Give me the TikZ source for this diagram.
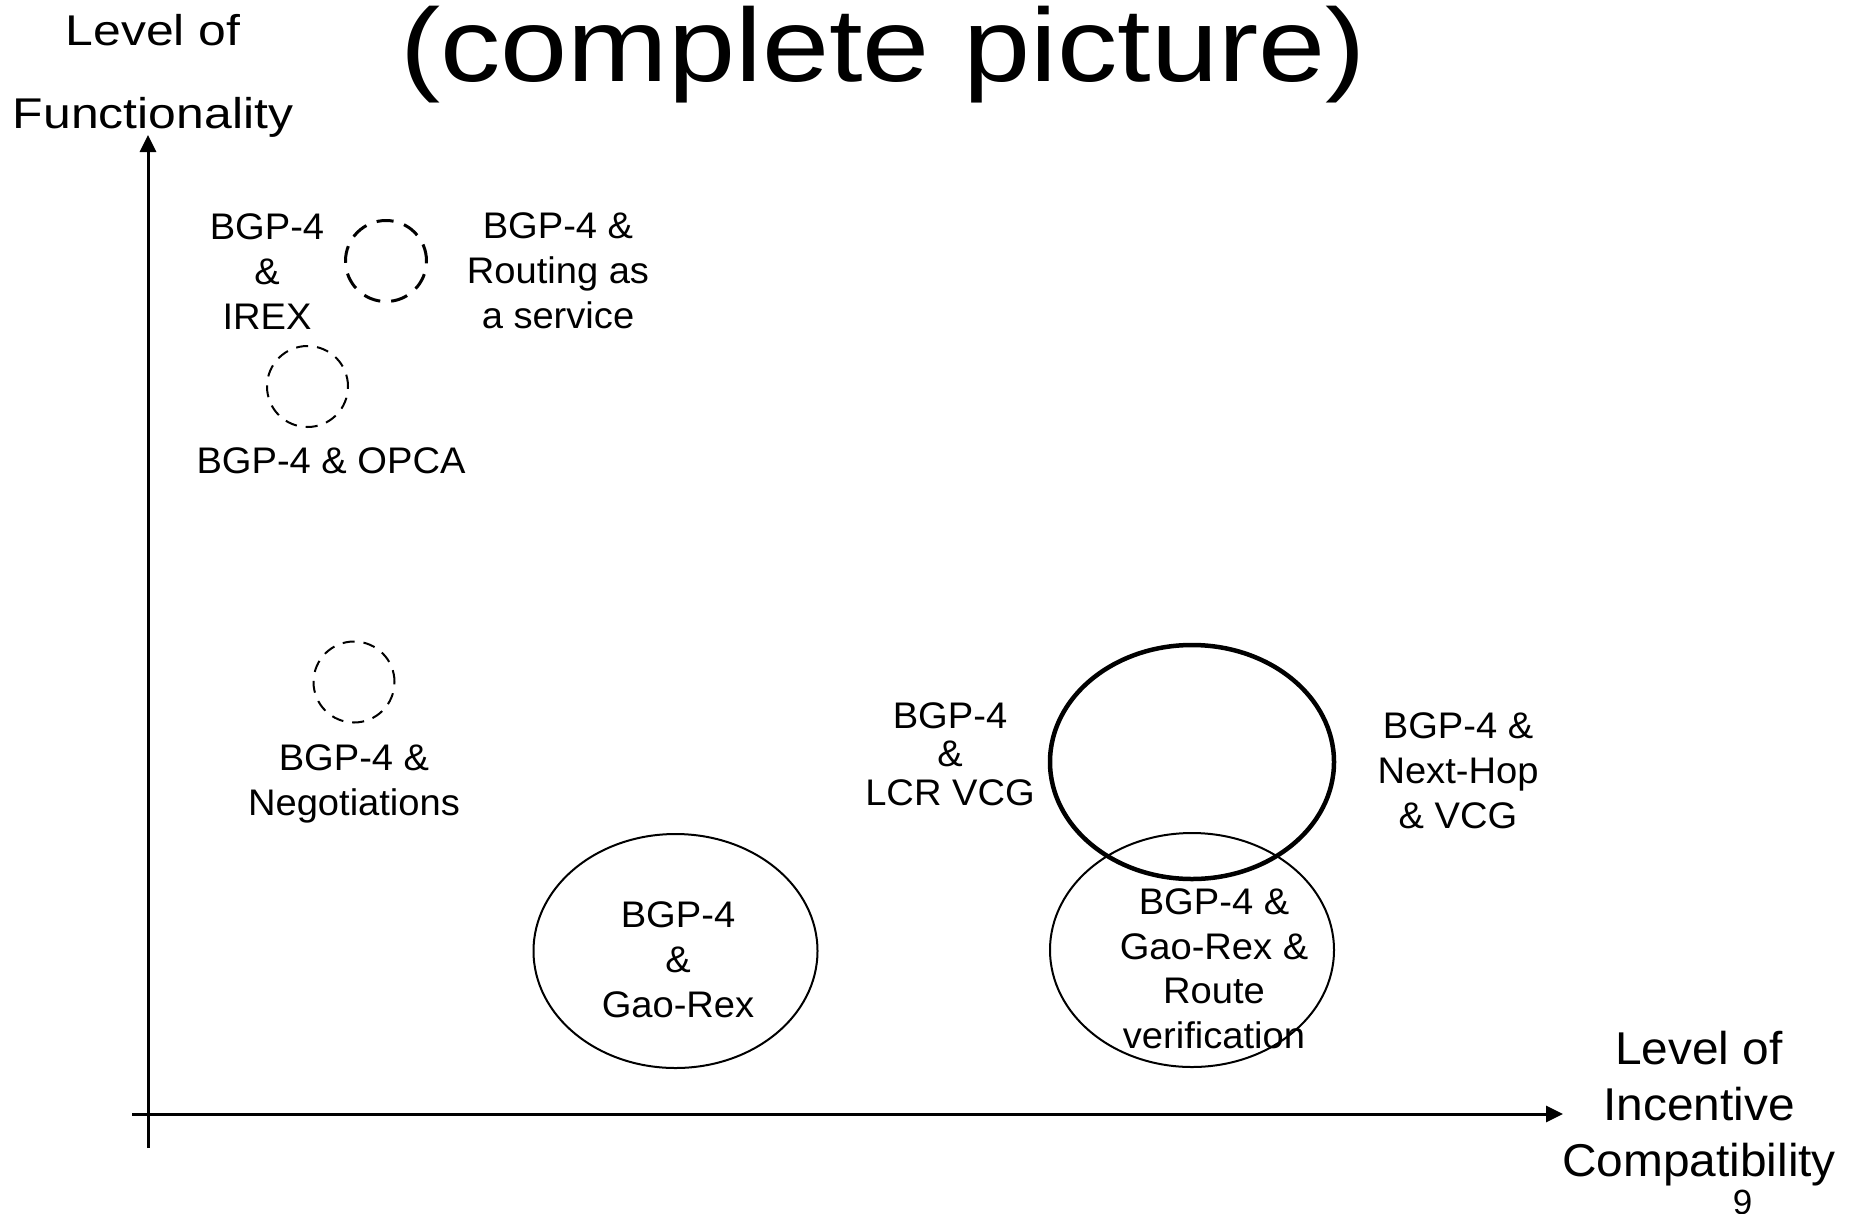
\documentclass[tikz,border=0pt]{standalone}
\usepackage{fontspec}
\setmainfont{Liberation Sans}
\newfontfamily\widefont[FakeStretch=1.16]{Liberation Sans}
\newfontfamily\midfont[FakeStretch=1.04]{Liberation Sans}
\newfontfamily\bodyfont[FakeStretch=1.03]{Liberation Sans}
\usetikzlibrary{shapes.geometric,arrows.meta}
\begin{document}
\begin{tikzpicture}[x=1pt,y=-1pt,
  lbl/.style={align=center, anchor=base, inner sep=0pt, font=\bodyfont\fontsize{37}{45}\selectfont},
  bigdash/.style={circle, draw, line width=3pt, dash pattern=on 17pt off 11pt, minimum size=81pt, inner sep=0pt},
  smalldash/.style={circle, draw, line width=2pt, dash pattern=on 12pt off 9pt, minimum size=81pt, inner sep=0pt},
  oval/.style={ellipse, draw, line width=2pt, minimum width=284pt, minimum height=234pt, inner sep=0pt},
  thickoval/.style={oval, line width=4.5pt},
  axis/.style={line width=3pt, -{Triangle[length=17pt,width=16pt]}}
]
\clip (0,0) rectangle (1860,1213);
\fill[white] (0,0) rectangle (1860,1213);

% title and axis labels (multi-line nodes: base = last line's baseline)
\node[anchor=base, inner sep=0pt, font=\widefont\fontsize{104}{120}\selectfont] (title) at (883,81) {(complete picture)};
\node[anchor=base, inner sep=0pt, align=center, font=\widefont\fontsize{43}{83}\selectfont] (ylabel) at (153,128) {Level of\\Functionality};
\node[anchor=base, inner sep=0pt, align=center, font=\midfont\fontsize{46}{56}\selectfont] (xlabel) at (1699,1176) {Level of\\Incentive\\Compatibility};
\node[anchor=base, inner sep=0pt, font=\fontsize{35}{40}\selectfont] (pagenum) at (1742.5,1214) {9};

% axes
\coordinate (ybot) at (148,1148);
\coordinate (ytop) at (148,135);
\coordinate (xleft) at (132,1114);
\coordinate (xright) at (1563,1114);
\draw[axis] (ybot) -- (ytop);
\draw[axis] (xleft) -- (xright);

% dashed circles
\node[bigdash] (irexcirc) at (386,261) {};
\node[smalldash] (opcacirc) at (307.5,386.5) {};
\node[smalldash] (negcirc) at (354,682) {};

% ellipses
\node[oval] (gaorexoval) at (675.5,951) {};
\node[thickoval] (vcgoval) at (1192,762) {};
\node[oval] (rvoval) at (1192,950) {};

% labels
\node[lbl] (irex) at (267,329) {BGP-4\\\&\\IREX};
\node[lbl] (ras) at (558,328) {BGP-4 \&\\Routing as\\a service};
\node[lbl] (opca) at (331,473) {BGP-4 \& OPCA};
\node[lbl] (neg) at (354,815) {BGP-4 \&\\Negotiations};
\node[lbl] (gaorex) at (678,1017) {BGP-4\\\&\\Gao-Rex};
\node[lbl, font=\bodyfont\fontsize{37}{38.5}\selectfont] (lcr) at (950,805) {BGP-4\\\&\\LCR VCG};
\node[lbl] (nexthop) at (1458,828) {BGP-4 \&\\Next-Hop\\\& VCG};
\node[lbl, font=\bodyfont\fontsize{37}{44.5}\selectfont] (rv) at (1214,1048) {BGP-4 \&\\Gao-Rex \&\\Route\\verification};
\end{tikzpicture}
\end{document}
